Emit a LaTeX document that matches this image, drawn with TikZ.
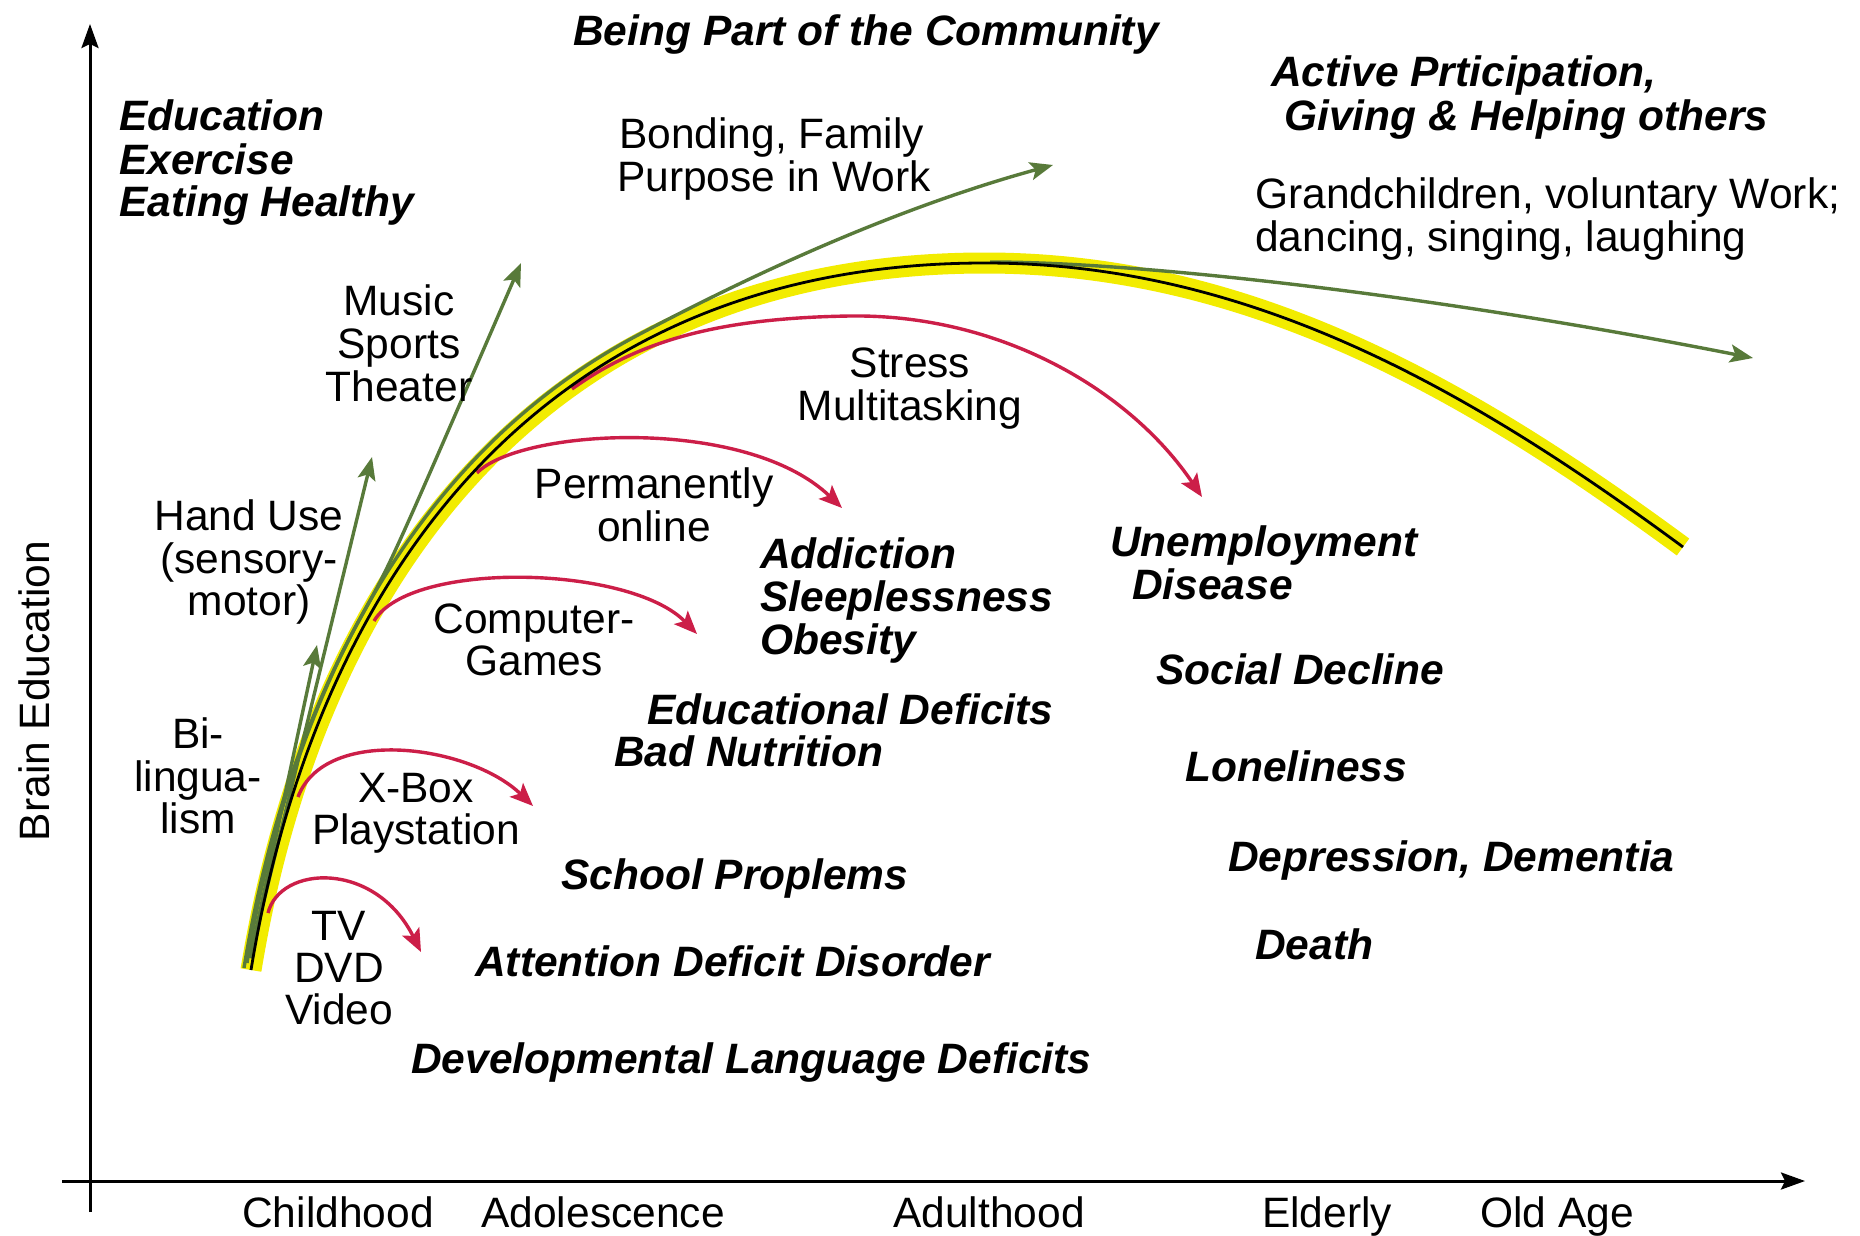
\documentclass[tikz,border=0pt]{standalone}
\usepackage{fontspec}
\setmainfont{Liberation Sans}
\usetikzlibrary{arrows.meta}
\definecolor{bandyellow}{RGB}{242,236,0}
\definecolor{arrgreen}{RGB}{88,122,58}
\definecolor{arrred}{RGB}{204,30,72}
\newcommand\myfs{\fontsize{42.5}{43}\selectfont}
\begin{document}
\begin{tikzpicture}[x=1pt,y=-1pt,
  lbl/.style={inner sep=0pt, font=\myfs},
  blbl/.style={inner sep=0pt, font=\myfs\bfseries\itshape},
  axisline/.style={line width=3pt, -{Stealth[length=24pt,width=17pt,inset=4pt]}},
  grarrow/.style={draw=arrgreen, line width=3.4pt, -{Stealth[length=23pt,width=18pt,inset=5pt]}},
  rdarrow/.style={draw=arrred, line width=3.4pt, -{Stealth[length=23pt,width=19pt,inset=5pt]}},
  band/.style={draw=bandyellow, line width=21pt},
  core/.style={draw=black, line width=2.8pt},
]
\useasboundingbox (0,0) rectangle (1860,1236);
\fill[white] (0,0) rectangle (1860,1236);

% axes
\coordinate (yb) at (90,1212);
\coordinate (yt) at (90,24);
\coordinate (xl) at (62,1181);
\coordinate (xr) at (1805,1181);
\draw[axisline] (yb) -- (yt);
\draw[axisline] (xl) -- (xr);

% main curve: yellow band
\coordinate (m0) at (251,970);
\coordinate (mpk) at (985,263);
\coordinate (m1) at (1683,547);
\path[band] (m0) .. controls (315,580) and (540,263) .. (mpk) .. controls (1250,263) and (1470,390) .. (m1);

% green arrows
\coordinate (gb) at (250,958);
\coordinate (bilTip) at (317,645);
\coordinate (handTip) at (372,457);
\draw[grarrow] (gb) -- (bilTip);
\draw[grarrow] (gb) -- (handTip);
\coordinate (gm0) at (244,968);
\coordinate (musMid) at (362,615);
\coordinate (musTip) at (521,263);
\draw[grarrow] (gm0) .. controls (265,839) and (304,719) .. (musMid) .. controls (391,563) .. (musTip);
\coordinate (gB0) at (247,963);
\coordinate (bMid) at (638,335);
\coordinate (bondTip) at (1053,165);
\draw[grarrow] (gB0) .. controls (292,690) and (415,453) .. (bMid) .. controls (753,274) and (896,208) .. (bondTip);
\coordinate (gg0) at (990,262);
\coordinate (grTip) at (1753,358);
\draw[grarrow] (gg0) .. controls (1150,262) and (1450,298) .. (grTip);

% red arrows
\coordinate (tv0) at (268,913);
\coordinate (tvTip) at (421,952);
\draw[rdarrow] (tv0) .. controls (280,865) and (375,860) .. (tvTip);
\coordinate (xb0) at (298,797);
\coordinate (xbTip) at (533,806);
\draw[rdarrow] (xb0) .. controls (325,725) and (470,745) .. (xbTip);
\coordinate (cg0) at (374,621);
\coordinate (cgTip) at (697,634);
\draw[rdarrow] (cg0) .. controls (410,560) and (630,565) .. (cgTip);
\coordinate (po0) at (477,473);
\coordinate (poTip) at (842,508);
\draw[rdarrow] (po0) .. controls (519,429) and (745,415) .. (poTip);
\coordinate (st0) at (572,389);
\coordinate (stMid) at (850,316);
\coordinate (stTip) at (1202,497);
\draw[rdarrow] (st0) .. controls (640,340) and (720,318) .. (stMid) .. controls (1000,314) and (1130,390) .. (stTip);

% main curve: black core
\path[core] (m0) .. controls (315,580) and (540,263) .. (mpk) .. controls (1250,263) and (1470,390) .. (m1);

% axis labels
\node[lbl, rotate=90, anchor=base] (brain) at (49,691) {Brain Education};
\node[lbl, anchor=base] (child) at (338,1227) {Childhood};
\node[lbl, anchor=base] (adol) at (603,1227) {Adolescence};
\node[lbl, anchor=base] (adult) at (989,1227) {Adulthood};
\node[lbl, anchor=base] (elder) at (1327,1227) {Elderly};
\node[lbl, anchor=base] (old) at (1557,1227) {Old Age};

% bold headings
\node[blbl, anchor=base west] (comm) at (573,46) {Being Part of the Community};
\node[blbl, anchor=base west] (edu1) at (119,131) {Education};
\node[blbl, anchor=base west] (edu2) at (119,174) {Exercise};
\node[blbl, anchor=base west] (edu3) at (119,216) {Eating Healthy};
\node[blbl, anchor=base west] (act1) at (1271,87) {Active Prticipation,};
\node[blbl, anchor=base west] (act2) at (1284,131) {Giving \& Helping others};

% regular labels
\node[lbl, anchor=base west] (gr1) at (1255,208) {Grandchildren, voluntary Work;};
\node[lbl, anchor=base west] (gr2) at (1255,251) {dancing, singing, laughing};
\node[lbl, anchor=base west] (bond1) at (619,149) {Bonding, Family};
\node[lbl, anchor=base west] (bond2) at (617,191) {Purpose in Work};
\node[lbl, anchor=base] (mus1) at (399,315) {Music};
\node[lbl, anchor=base] (mus2) at (399,358) {Sports};
\node[lbl, anchor=base] (mus3) at (399,401) {Theater};
\node[lbl, anchor=base] (hand1) at (249,530) {Hand Use};
\node[lbl, anchor=base] (hand2) at (249,573) {(sensory-};
\node[lbl, anchor=base] (hand3) at (249,615) {motor)};
\node[lbl, anchor=base] (bil1) at (198,748) {Bi-};
\node[lbl, anchor=base] (bil2) at (198,791) {lingua-};
\node[lbl, anchor=base] (bil3) at (198,833) {lism};
\node[lbl, anchor=base] (xb1) at (416,802) {X-Box};
\node[lbl, anchor=base] (xb2) at (416,844) {Playstation};
\node[lbl, anchor=base] (tv1) at (339,940) {TV};
\node[lbl, anchor=base] (tv2) at (339,982) {DVD};
\node[lbl, anchor=base] (tv3) at (339,1024) {Video};
\node[lbl, anchor=base] (cg1) at (534,633) {Computer-};
\node[lbl, anchor=base] (cg2) at (534,675) {Games};
\node[lbl, anchor=base] (po1) at (654,498) {Permanently};
\node[lbl, anchor=base] (po2) at (654,541) {online};
\node[lbl, anchor=base] (st1) at (910,377) {Stress};
\node[lbl, anchor=base] (st2) at (910,420) {Multitasking};

% consequences
\node[blbl, anchor=base west] (add1) at (760,568) {Addiction};
\node[blbl, anchor=base west] (add2) at (760,611) {Sleeplessness};
\node[blbl, anchor=base west] (add3) at (760,654) {Obesity};
\node[blbl, anchor=base west] (ed) at (647,724) {Educational Deficits};
\node[blbl, anchor=base west] (bn) at (614,766) {Bad Nutrition};
\node[blbl, anchor=base west] (sp) at (561,889) {School Proplems};
\node[blbl, anchor=base west] (adhd) at (475,976) {Attention Deficit Disorder};
\node[blbl, anchor=base west] (dld) at (411,1073) {Developmental Language Deficits};
\node[blbl, anchor=base west] (un1) at (1110,556) {Unemployment};
\node[blbl, anchor=base west] (un2) at (1132,599) {Disease};
\node[blbl, anchor=base west] (sd) at (1156,684) {Social Decline};
\node[blbl, anchor=base west] (lone) at (1185,781) {Loneliness};
\node[blbl, anchor=base west] (dep) at (1228,871) {Depression, Dementia};
\node[blbl, anchor=base west] (death) at (1255,959) {Death};
\end{tikzpicture}
\end{document}
